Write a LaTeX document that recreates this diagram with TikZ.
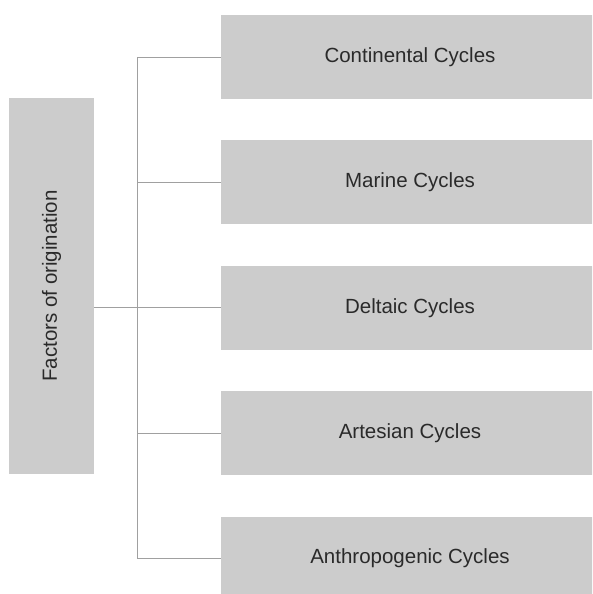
\documentclass[tikz,border=0pt]{standalone}
\usepackage{fontspec}
\setmainfont{Liberation Sans}
\usepackage{tikz}
\usepackage{xcolor}
\usetikzlibrary{positioning}
\definecolor{boxgray}{HTML}{CCCCCC}
\definecolor{linegray}{HTML}{A0A0A0}
\definecolor{textgray}{HTML}{2A2A2A}

\begin{document}
\begin{tikzpicture}[
    x=1pt, y=1pt,
    node distance=41pt,
    every node/.style={text=textgray, font=\fontsize{20.5}{24}\selectfont, inner sep=0pt},
    factor/.style={fill=boxgray, minimum width=85pt, minimum height=376pt},
    cycle/.style={fill=boxgray, minimum width=378pt, minimum height=84pt},
    link/.style={draw=linegray, line width=0.9pt}
]
\useasboundingbox (0,0) rectangle (592,594);
\clip (0,0) rectangle (592,594);

\node[factor] (factors) at (51.5,308) {\rotatebox{90}{Factors of origination}};

\node[cycle] (continental) at (410,537) {Continental Cycles};
\node[cycle, below=of continental] (marine) {Marine Cycles};
\node[cycle, below=of marine] (deltaic) {Deltaic Cycles};
\node[cycle, below=of deltaic] (artesian) {Artesian Cycles};
\node[cycle, below=of artesian] (anthropogenic) {Anthropogenic Cycles};

\coordinate (trunk) at (137,0);

\draw[link] (trunk |- continental.west) -- (trunk |- anthropogenic.west);
\draw[link] (factors.east |- deltaic.west) -- (trunk |- deltaic.west);
\foreach \n in {continental,marine,deltaic,artesian,anthropogenic}
    \draw[link] (trunk |- \n.west) -- (\n.west);

\end{tikzpicture}
\end{document}
